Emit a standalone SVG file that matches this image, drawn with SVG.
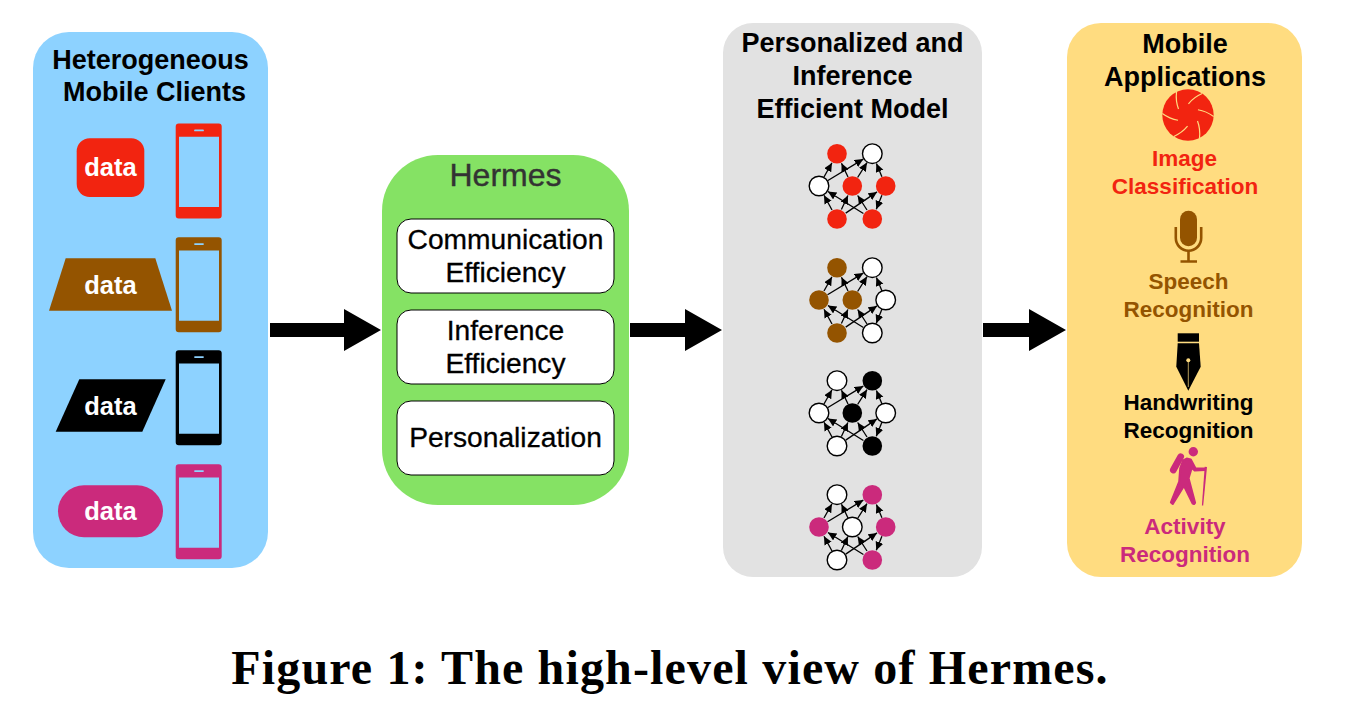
<svg xmlns="http://www.w3.org/2000/svg" xmlns:xlink="http://www.w3.org/1999/xlink" width="1351" height="728" viewBox="0 0 1351 728">
<style>
text{font-family:"Liberation Sans",Arial,sans-serif;text-anchor:middle}
.h{font-size:27px;font-weight:700;fill:#000}
.d{font-size:25.5px;font-weight:700;fill:#fff}
.b{font-size:28.2px;fill:#000;stroke:#000;stroke-width:.3}
.a{font-size:22.5px;font-weight:700}
.box{fill:#fff;stroke:#000;stroke-width:1}
.e{stroke:#000;stroke-width:1.3;fill:none;marker-end:url(#ah)}
.w{fill:#fff;stroke:#000;stroke-width:1.4}
.red{fill:#f22410}.brn{fill:#945400}.blk{fill:#000}.pnk{fill:#cb2a7c}
</style>
<defs>
<marker id="ah" markerUnits="userSpaceOnUse" markerWidth="10" markerHeight="10" refX="8.500" refY="4" orient="auto"><path d="M0 0L8.500 4L0 8z" fill="#000"/></marker>
<g id="edges">
<path class="e" d="M824-9L831.900-23.100"/>
<path class="e" d="M827.500-5.200L863.300-26.900"/>
<path class="e" d="M848-9L841.500-22.800"/>
<path class="e" d="M857.600-8.500L867-23.400"/>
<path class="e" d="M881.900-9.200L876.400-22.600"/>
<path class="e" d="M881.900 9.200L876.300 23.300"/>
<path class="e" d="M832 24L824 9.200"/>
<path class="e" d="M841.400 23.500L847.900 9.500"/>
<path class="e" d="M845.700 27.100L877 5.900"/>
<path class="e" d="M863.400 27.500L827.900 5.500"/>
<path class="e" d="M867 24L857.700 9.500"/>
</g>
<g id="phone">
<path fill-rule="evenodd" d="M178.700 123.500h40a3 3 0 0 1 3 3v89a3 3 0 0 1-3 3h-40a3 3 0 0 1-3-3v-89a3 3 0 0 1 3-3zM179 136.700v70.300h40v-70.300zM195 129.500a.9.9 0 0 0 0 1.800h8a.9.9 0 0 0 0-1.800z"/>
</g>
<path id="blade" d="M-11.500-23Q-12.500-14-9.500-6" fill="none" stroke="#ffdc80" stroke-width="1.200"/>
</defs>
<rect width="1351" height="728" fill="#fff"/>

<g id="clients">
<rect x="33" y="32" width="235" height="536" rx="36" fill="#8dd2ff"/>
<text class="h" x="150.500" y="69">Heterogeneous</text>
<text class="h" x="154.500" y="101">Mobile Clients</text>
<g class="red"><use xlink:href="#phone"/></g>
<rect class="red" x="76.700" y="138.300" width="67.600" height="58.700" rx="13"/>
<text class="d" x="110.500" y="176">data</text>
<g class="brn"><use xlink:href="#phone" y="113.700"/></g>
<path class="brn" d="M65.700 258.300H155.300L172 310.700H49z"/>
<text class="d" x="110.500" y="294">data</text>
<g class="blk"><use xlink:href="#phone" y="226.700"/></g>
<path class="blk" d="M79.300 379.300H165.700L142.300 431.700H55.700z"/>
<text class="d" x="110.500" y="415">data</text>
<g class="pnk"><use xlink:href="#phone" y="340.700"/></g>
<rect class="pnk" x="58" y="485.300" width="105" height="52" rx="26"/>
<text class="d" x="110.500" y="520">data</text>
</g>

<g id="hermes">
<rect x="382" y="155" width="247" height="350" rx="56" fill="#85e264"/>
<text x="505.500" y="186" font-size="32" fill="#333" stroke="#333" stroke-width=".4">Hermes</text>
<rect class="box" x="397" y="219" width="217" height="74" rx="14"/>
<text class="b" x="505.500" y="249">Communication</text>
<text class="b" x="505.500" y="282">Efficiency</text>
<rect class="box" x="397" y="310" width="217" height="74" rx="14"/>
<text class="b" x="505.500" y="340">Inference</text>
<text class="b" x="505.500" y="373">Efficiency</text>
<rect class="box" x="397" y="401" width="217" height="74" rx="14"/>
<text class="b" x="505.500" y="447">Personalization</text>
</g>

<g id="model">
<rect x="723" y="23" width="259" height="554" rx="30" fill="#e2e2e2"/>
<text class="h" x="852.500" y="52">Personalized and</text>
<text class="h" x="852.500" y="85">Inference</text>
<text class="h" x="852.500" y="118">Efficient Model</text>
<g id="net1" transform="translate(0 186)"><use xlink:href="#edges"/>
<circle class="red" cx="837" cy="-32.300" r="9.800"/><circle class="w" cx="872.300" cy="-32.300" r="9.800"/><circle class="w" cx="819" cy="0" r="9.800"/><circle class="red" cx="852.300" cy="0" r="9.800"/><circle class="red" cx="885.700" cy="0" r="9.800"/><circle class="red" cx="837" cy="33" r="9.800"/><circle class="red" cx="872.300" cy="33" r="9.800"/></g>
<g id="net2" transform="translate(0 300)"><use xlink:href="#edges"/>
<circle class="brn" cx="837" cy="-32.300" r="9.800"/><circle class="w" cx="872.300" cy="-32.300" r="9.800"/><circle class="brn" cx="819" cy="0" r="9.800"/><circle class="brn" cx="852.300" cy="0" r="9.800"/><circle class="w" cx="885.700" cy="0" r="9.800"/><circle class="brn" cx="837" cy="33" r="9.800"/><circle class="w" cx="872.300" cy="33" r="9.800"/></g>
<g id="net3" transform="translate(0 413)"><use xlink:href="#edges"/>
<circle class="w" cx="837" cy="-32.300" r="9.800"/><circle class="blk" cx="872.300" cy="-32.300" r="9.800"/><circle class="w" cx="819" cy="0" r="9.800"/><circle class="blk" cx="852.300" cy="0" r="9.800"/><circle class="w" cx="885.700" cy="0" r="9.800"/><circle class="w" cx="837" cy="33" r="9.800"/><circle class="blk" cx="872.300" cy="33" r="9.800"/></g>
<g id="net4" transform="translate(0 527)"><use xlink:href="#edges"/>
<circle class="w" cx="837" cy="-32.300" r="9.800"/><circle class="pnk" cx="872.300" cy="-32.300" r="9.800"/><circle class="pnk" cx="819" cy="0" r="9.800"/><circle class="w" cx="852.300" cy="0" r="9.800"/><circle class="pnk" cx="885.700" cy="0" r="9.800"/><circle class="w" cx="837" cy="33" r="9.800"/><circle class="pnk" cx="872.300" cy="33" r="9.800"/></g>
</g>

<g id="apps">
<rect x="1067" y="23" width="235" height="554" rx="34" fill="#ffdc80"/>
<text class="h" x="1185" y="53">Mobile</text>
<text class="h" x="1185" y="86">Applications</text>
<g id="aperture" transform="translate(1188 115)">
<circle class="red" r="25.700"/>
<use xlink:href="#blade"/>
<use xlink:href="#blade" transform="rotate(60)"/>
<use xlink:href="#blade" transform="rotate(120)"/>
<use xlink:href="#blade" transform="rotate(180)"/>
<use xlink:href="#blade" transform="rotate(240)"/>
<use xlink:href="#blade" transform="rotate(300)"/>
</g>
<text class="a red" x="1184.500" y="166">Image</text>
<text class="a red" x="1185" y="194">Classification</text>
<g id="mic" fill="none" stroke="#945400" stroke-width="2.600">
<rect x="1180" y="210.700" width="17" height="35.500" rx="8.500" fill="#945400" stroke="none"/>
<path d="M1175.800 227v11a12.700 12.700 0 0 0 25.400 0v-11"/>
<path d="M1188.500 251v10M1180.500 261.500h16.500"/>
</g>
<text class="a brn" x="1188.500" y="289">Speech</text>
<text class="a brn" x="1188.500" y="317">Recognition</text>
<g id="pen">
<rect x="1177.700" y="333.300" width="21.300" height="8.400"/>
<path d="M1177.700 343.300H1199L1200.700 366.700L1188.300 390.700L1176.300 366.700z"/>
<circle cx="1188.300" cy="360.300" r="2" fill="#ffdc80"/>
<path d="M1188.300 360.300V387" stroke="#ffdc80" stroke-width=".7"/>
</g>
<text class="a blk" x="1188.500" y="410">Handwriting</text>
<text class="a blk" x="1188.500" y="438">Recognition</text>
<g id="hiker" class="pnk">
<circle cx="1193.300" cy="451.700" r="4.700"/>
<path d="M1180.700 456.700L1173.300 470" fill="none" stroke="#cb2a7c" stroke-width="6.700" stroke-linecap="round"/>
<path stroke="#cb2a7c" stroke-width="2.200" stroke-linejoin="round" d="M1186.700 458.700L1190.700 459.500L1195.500 468.500L1205 468.500V469.800L1194.700 470.300L1191.700 467.700L1188.500 478.300L1195 502.800L1194 504L1192.700 503.500L1184 485.700L1172.700 503.800L1171 502.500L1179.300 481.700L1180.300 468.300L1183.200 460.500z"/>
<path d="M1204.700 466.700L1207 466.900L1203.200 505.500L1201.900 505.500z"/>
</g>
<text class="a pnk" x="1185" y="534">Activity</text>
<text class="a pnk" x="1185" y="562">Recognition</text>
</g>

<g id="connectors" fill="#000">
<path d="M270 323H344V309L381 330L344 351V337H270z"/>
<path d="M630 323H685V309L722 330L685 351V337H630z"/>
<path d="M983 323H1029V309L1066 330L1029 351V337H983z"/>
</g>

<text x="670" y="684" font-size="48" font-weight="700" letter-spacing="1.150" style="font-family:'Liberation Serif',serif">Figure 1: The high-level view of Hermes.</text>
</svg>
